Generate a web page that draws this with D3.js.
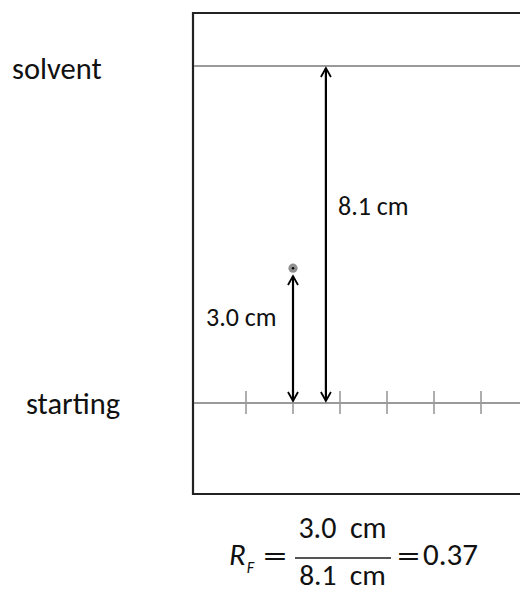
<!DOCTYPE html>
<html><head><meta charset="utf-8">
<script src="https://cdn.jsdelivr.net/npm/d3@7"></script>
<style>html,body{margin:0;padding:0;background:#fff}</style>
</head><body>
<script>
// ---- data ----
const lineLabels = ["solvent", "starting"];
const lineHeights = [8.1, 0];            // cm above the starting line
const measureLabels = ["3.0 cm", "8.1 cm"];
const measureValues = [3.0, 8.1];        // printed distances
const measureDrawn = [3.1, 8.1];         // drawn heights
const measureLanes = [1, 1.7];           // lane position of each arrow
const tickLanes = [0, 1, 2, 3, 4, 5];
const spotLane = 1, spotHeight = 3.24;
const rfValue = 0.37;

const W = 520, H = 593;
const font = "Carlito, Calibri, Lato, 'Open Sans', sans-serif";
const svg = d3.select("body").append("svg").attr("width", W).attr("height", H)
  .style("font-family", font);

const y = d3.scaleLinear().domain([0, 8.1]).range([403, 66]);
const x = d3.scaleLinear().domain([0, 5]).range([246, 481]);
const boxL = 193, boxT = 13, boxB = 494;

// box (right side open past edge)
svg.append("path")
  .attr("d", `M${W+5},${boxT}H${boxL}V${boxB}H${W+5}`)
  .attr("fill", "none").attr("stroke", "#222").attr("stroke-width", 2.2);

// horizontal lines
svg.selectAll("line.h").data(lineHeights).join("line").attr("class", "h")
  .attr("x1", boxL + 1).attr("x2", W).attr("y1", d => y(d)).attr("y2", d => y(d))
  .attr("stroke", "#9a9a9a").attr("stroke-width", 2);

// ticks on starting line
svg.selectAll("line.t").data(tickLanes).join("line").attr("class", "t")
  .attr("x1", d => x(d)).attr("x2", d => x(d))
  .attr("y1", y(0) - 12).attr("y2", y(0) + 11)
  .attr("stroke", "#9a9a9a").attr("stroke-width", 1.6);

// line labels
svg.selectAll("text.lab").data(lineLabels).join("text").attr("class", "lab")
  .attr("x", (d, i) => i === 0 ? 12 : 26)
  .attr("y", (d, i) => y(lineHeights[i]) + (i === 0 ? 13 : 11))
  .attr("font-size", 30.5).attr("fill", "#111").text(d => d);

// arrow marker
const defs = svg.append("defs");
["s", "e"].forEach(k => {
  defs.append("marker").attr("id", "ah" + k)
    .attr("viewBox", "-12 -7 14 14").attr("markerWidth", 14).attr("markerHeight", 14)
    .attr("refX", 0).attr("refY", 0).attr("orient", k === "s" ? "auto-start-reverse" : "auto")
    .attr("markerUnits", "userSpaceOnUse")
    .append("path").attr("d", "M-9,-5L0,0L-9,5")
    .attr("fill", "none").attr("stroke", "#000").attr("stroke-width", 1.8);
});

// spot
svg.append("circle").attr("cx", x(spotLane)).attr("cy", y(spotHeight)).attr("r", 4.6)
  .attr("fill", "#909090");
svg.append("circle").attr("cx", x(spotLane)).attr("cy", y(spotHeight)).attr("r", 1.2)
  .attr("fill", "#000");

// measurement arrows
svg.selectAll("line.m").data(measureDrawn).join("line").attr("class", "m")
  .attr("x1", (d, i) => x(measureLanes[i])).attr("x2", (d, i) => x(measureLanes[i]))
  .attr("y1", y(0) - 2).attr("y2", d => y(d) + 2)
  .attr("stroke", "#000").attr("stroke-width", 2.2)
  .attr("marker-start", "url(#ahs)").attr("marker-end", "url(#ahe)");

// measurement labels
svg.selectAll("text.m").data(measureLabels).join("text").attr("class", "m")
  .attr("x", (d, i) => i === 0 ? 206 : 338)
  .attr("y", (d, i) => i === 0 ? 326 : 215)
  .attr("font-size", 26).attr("fill", "#111").text(d => d);

// formula
const f = svg.append("g").attr("fill", "#111");
const rt = f.append("text").attr("x", 229).attr("y", 565).attr("font-size", 31);
rt.append("tspan").attr("font-style", "italic").text("R");
rt.append("tspan").attr("font-style", "italic").attr("font-size", 16).attr("dx", 1).attr("dy", 8).text("F");
f.append("text").attr("x", 263).attr("y", 566).attr("font-size", 30)
  .attr("textLength", 24).attr("lengthAdjust", "spacingAndGlyphs").text("=");
f.append("line").attr("x1", 295).attr("x2", 391).attr("y1", 558).attr("y2", 558)
  .attr("stroke", "#555").attr("stroke-width", 2);
f.append("text").attr("x", 342.5).attr("y", 538).attr("text-anchor", "middle")
  .attr("font-size", 30)
  .text(measureValues[0].toFixed(1) + "\u00a0\u00a0cm");
f.append("text").attr("x", 342.5).attr("y", 585).attr("text-anchor", "middle")
  .attr("font-size", 29.5)
  .text(measureValues[1].toFixed(1) + "\u00a0\u00a0cm");
f.append("text").attr("x", 397).attr("y", 566).attr("font-size", 30)
  .attr("textLength", 23).attr("lengthAdjust", "spacingAndGlyphs").text("=");
f.append("text").attr("x", 423).attr("y", 565).attr("font-size", 31).text(rfValue.toFixed(2));
</script>
</body></html>
